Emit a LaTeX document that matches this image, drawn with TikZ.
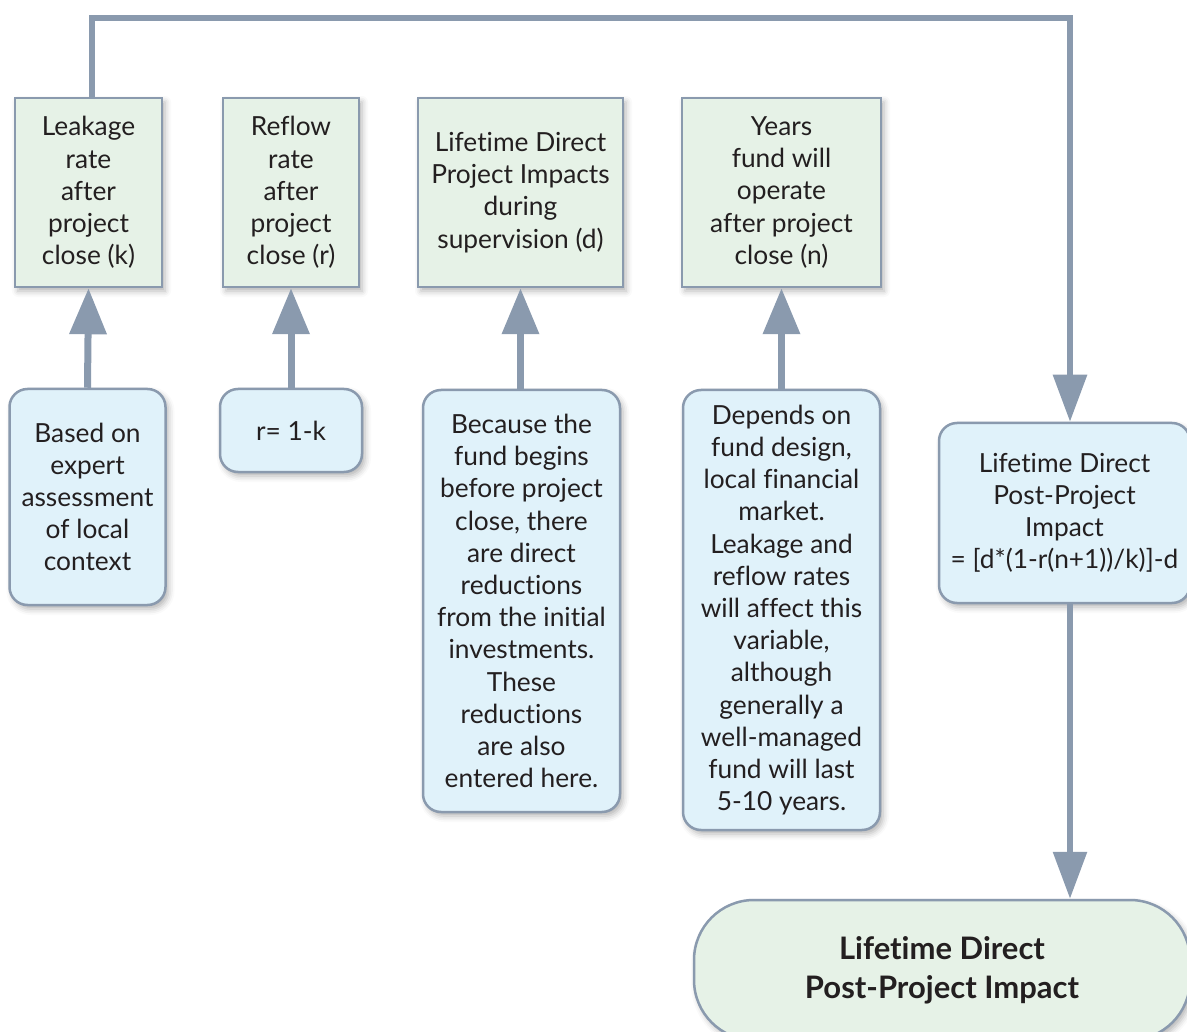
\documentclass[tikz,border=0pt]{standalone}
\usepackage{fontspec}
\setmainfont[Ligatures=NoCommon]{Lato}
\usetikzlibrary{arrows.meta,shadows.blur}
\definecolor{edge}{HTML}{8A9AAE}
\definecolor{greenfill}{HTML}{E6F2E7}
\definecolor{bluefill}{HTML}{E0F2FA}
\definecolor{txt}{HTML}{231F20}
\begin{document}
\begin{tikzpicture}[x=1pt,y=-1pt,
  basebox/.style={draw=edge, line width=2.5pt, align=center, inner sep=0pt,
    text=txt, font=\fontsize{26.3}{32.2}\selectfont,
    blur shadow={shadow xshift=3pt, shadow yshift=-4pt, shadow blur radius=6pt, shadow opacity=30}},
  greenbox/.style={basebox, fill=greenfill},
  bluebox/.style={basebox, fill=bluefill, rounded corners=18pt},
  conn/.style={draw=edge, line width=7pt, -{Triangle[width=36pt,length=46pt]}},
  wire/.style={draw=edge, line width=6pt, -{Triangle[width=33pt,length=47pt]}}]
\useasboundingbox (0,0) rectangle (1187,1032);

\node[greenbox, minimum width=147pt, minimum height=189pt] (k) at (88.5,192.5)
  {Leakage\\rate\\after\\project\\close (k)};
\node[greenbox, minimum width=136pt, minimum height=189pt] (r) at (291,192.5)
  {Reflow\\rate\\after\\project\\close (r)};
\node[greenbox, minimum width=205pt, minimum height=189pt] (d) at (520.5,192.5)
  {Lifetime Direct\\Project Impacts\\during\\supervision (d)};
\node[greenbox, minimum width=199pt, minimum height=189pt] (n) at (781.5,192.5)
  {Years\\fund will\\operate\\after project\\close (n)};

\node[bluebox, minimum width=156pt, minimum height=216pt] (bk) at (87.5,497)
  {Based on\\expert\\assessment\\of local\\context};
\node[bluebox, minimum width=142pt, minimum height=83pt] (br) at (291,430.5)
  {r= 1-k};
\node[bluebox, minimum width=197pt, minimum height=422pt] (bd) at (521.5,601)
  {Because the\\fund begins\\before project\\close, there\\are direct\\reductions\\from the initial\\investments.\\These\\reductions\\are also\\entered here.};
\node[bluebox, minimum width=197pt, minimum height=440pt] (bn) at (781.5,610)
  {Depends on\\fund design,\\local financial\\market.\\Leakage and\\reflow rates\\will affect this\\variable,\\although\\generally a\\well-managed\\fund will last\\5-10 years.};
\node[bluebox, minimum width=251pt, minimum height=180pt] (f) at (1064.5,513)
  {Lifetime Direct\\Post-Project\\Impact\\= [d*(1-r(n+1))/k)]-d};
\node[greenbox, rounded corners=60pt, minimum width=496pt, minimum height=140pt,
  font=\fontsize{31}{39}\selectfont\bfseries] (fin) at (942,970)
  {Lifetime Direct\\Post-Project Impact};

\draw[conn] (bk.north) -- (k.south);
\draw[conn] (br.north) -- (r.south);
\draw[conn] (bd.north -| d.south) -- (d.south);
\draw[conn] (bn.north) -- (n.south);

\coordinate (tl) at (92,18);
\coordinate (tr) at (1070,18);
\draw[wire] (k.north -| tl) -- (tl) -- (tr) -- (tr |- f.north);
\draw[wire] (f.south -| tr) -- (fin.north -| tr);
\end{tikzpicture}
\end{document}
